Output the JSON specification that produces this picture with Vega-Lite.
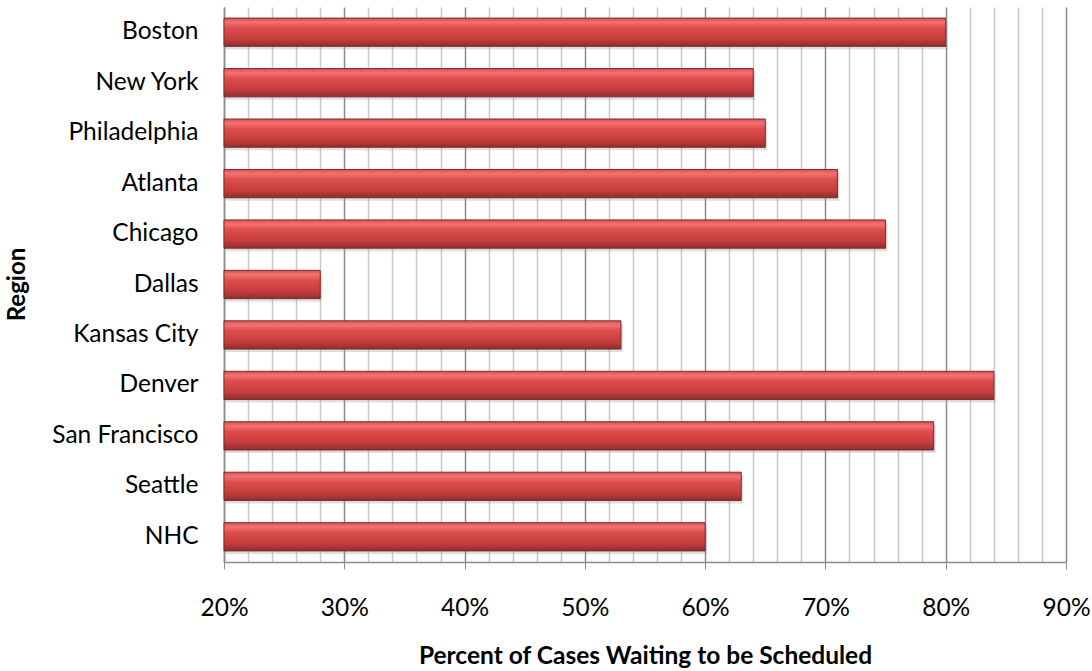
{
  "$schema": "https://vega.github.io/schema/vega-lite/v6.json",
  "autosize": "none",
  "width": 842,
  "height": 555,
  "padding": {"left": 224, "top": 7, "right": 26, "bottom": 109},
  "background": "white",
  "config": {
    "view": {"stroke": null},
    "font": "Lato",
    "axis": {"labelFont": "Lato", "titleFont": "Lato"}
  },
  "data": {
    "values": [
      {"region": "Boston", "percent": 80},
      {"region": "New York", "percent": 64},
      {"region": "Philadelphia", "percent": 65},
      {"region": "Atlanta", "percent": 71},
      {"region": "Chicago", "percent": 75},
      {"region": "Dallas", "percent": 28},
      {"region": "Kansas City", "percent": 53},
      {"region": "Denver", "percent": 84},
      {"region": "San Francisco", "percent": 79},
      {"region": "Seattle", "percent": 63},
      {"region": "NHC", "percent": 60}
    ]
  },
  "encoding": {
    "y": {
      "field": "region", "type": "nominal", "sort": null,
      "scale": {"paddingInner": 0.44, "paddingOuter": 0.22},
      "axis": {
        "title": "Region",
        "titleFontWeight": "bold",
        "titleFontSize": 24,
        "titleColor": "#000000",
        "titleAngle": -90,
        "titleX": -207,
        "titleY": 277,
        "titleAlign": "center",
        "titleBaseline": "middle",
        "labelFontSize": 24.5,
        "labelColor": "#000000",
        "labelPadding": 26,
        "ticks": false,
        "domain": true,
        "domainColor": "#8c8c8c",
        "domainWidth": 1.5,
        "grid": false
      }
    },
    "x": {
      "field": "percent", "type": "quantitative",
      "scale": {"domain": [20, 90], "nice": false, "zero": false},
      "axis": {
        "values": [20,22,24,26,28,30,32,34,36,38,40,42,44,46,48,50,52,54,56,58,60,62,64,66,68,70,72,74,76,78,80,82,84,86,88,90],
        "labelExpr": "datum.value % 10 === 0 ? datum.value + '%' : ''",
        "labelFlush": false,
        "labelOverlap": false,
        "labelFontSize": 24.5,
        "labelColor": "#000000",
        "labelPadding": 27,
        "tickSize": 7,
        "tickColor": {"condition": {"test": "datum.value % 10 === 0", "value": "#8c8c8c"}, "value": "transparent"},
        "grid": true,
        "gridColor": {"condition": {"test": "datum.value % 10 === 0", "value": "#8a8a8a"}, "value": "#c8c8c8"},
        "gridWidth": 1.5,
        "domainColor": "#8c8c8c",
        "domainWidth": 1.5,
        "title": "Percent of Cases Waiting to be Scheduled",
        "titleFontWeight": "bold",
        "titleFontSize": 24.5,
        "titleColor": "#000000",
        "titleX": 421,
        "titleY": 94,
        "titleAlign": "center",
        "titleBaseline": "middle"
      }
    },
    "x2": {"datum": 20}
  },
  "layer": [
    {
      "mark": {"type": "bar", "color": "#a0a0a0", "opacity": 0.35, "xOffset": 2, "yOffset": 3}
    },
    {
      "mark": {
        "type": "bar",
        "stroke": "#7d2a2a",
        "strokeWidth": 1,
        "color": {
          "gradient": "linear",
          "x1": 0, "y1": 0, "x2": 0, "y2": 1,
          "stops": [
            {"offset": 0, "color": "#d85050"},
            {"offset": 0.15, "color": "#f47272"},
            {"offset": 0.35, "color": "#de4d4d"},
            {"offset": 0.75, "color": "#c43c3c"},
            {"offset": 1, "color": "#8e2e2e"}
          ]
        }
      }
    }
  ]
}
